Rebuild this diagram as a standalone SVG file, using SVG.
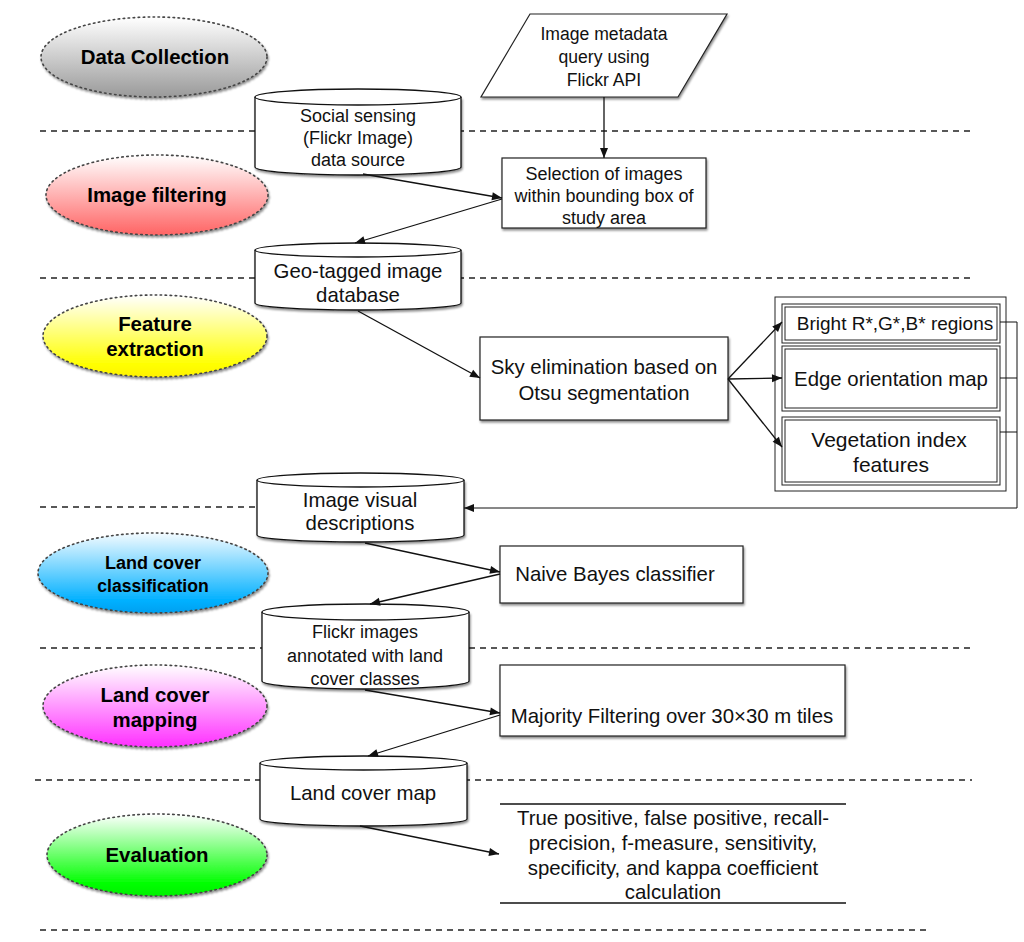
<svg xmlns="http://www.w3.org/2000/svg" width="1024" height="942" viewBox="0 0 1024 942">
<style>
.t{font-family:"Liberation Sans",Arial,sans-serif;font-size:20.4px;fill:#111;text-anchor:middle}
.s18{font-size:18px}
.s176{font-size:17.6px}
.s19{font-size:19px}
.s21{font-size:21px}
.lb{font-family:"Liberation Sans",Arial,sans-serif;font-size:20.4px;font-weight:bold;fill:#000;text-anchor:middle}
.ell{stroke:#444;stroke-width:1.6;stroke-dasharray:1.5 3.5;stroke-linecap:round}
.sep{stroke:#222;stroke-width:1.3;stroke-dasharray:6 5;fill:none}
.box{fill:#fff;stroke:#222;stroke-width:1.2}
.cyl{fill:#fff;stroke:#111;stroke-width:1.3}
.con{stroke:#111;stroke-width:1.3;fill:none}
.dbl{fill:#fff;stroke:#222;stroke-width:1}
</style>
<defs>
<linearGradient id="gGray" x1="0" y1="0" x2="0" y2="1"><stop offset="0" stop-color="#fff"/><stop offset="1" stop-color="#9a9a9a"/></linearGradient>
<linearGradient id="gRed" x1="0" y1="0" x2="0" y2="1"><stop offset="0" stop-color="#fff"/><stop offset="1" stop-color="#ff6464"/></linearGradient>
<linearGradient id="gYel" x1="0" y1="0" x2="0" y2="1"><stop offset="0" stop-color="#fff"/><stop offset="0.85" stop-color="#ffff00"/><stop offset="1" stop-color="#fff200"/></linearGradient>
<linearGradient id="gBlue" x1="0" y1="0" x2="0" y2="1"><stop offset="0" stop-color="#f4fbff"/><stop offset="0.85" stop-color="#00b0ff"/><stop offset="1" stop-color="#00a0f0"/></linearGradient>
<linearGradient id="gMag" x1="0" y1="0" x2="0" y2="1"><stop offset="0" stop-color="#fff"/><stop offset="1" stop-color="#ff30ff"/></linearGradient>
<linearGradient id="gGrn" x1="0" y1="0" x2="0" y2="1"><stop offset="0" stop-color="#fff"/><stop offset="0.85" stop-color="#00ff00"/><stop offset="1" stop-color="#00f000"/></linearGradient>
<filter id="sh" x="-5%" y="-5%" width="115%" height="125%"><feDropShadow dx="1" dy="2" stdDeviation="1.2" flood-color="#000" flood-opacity="0.45"/></filter>
<marker id="ar" viewBox="0 0 10 10" refX="10" refY="5" markerWidth="11" markerHeight="10" markerUnits="userSpaceOnUse" orient="auto"><path d="M0,1 L10,5 L0,9 Z" fill="#111"/></marker>
</defs>
<rect width="1024" height="942" fill="#fff"/>

<g id="separators">
<line class="sep" x1="40" y1="131" x2="975" y2="131"/>
<line class="sep" x1="40" y1="278" x2="975" y2="278"/>
<line class="sep" x1="40" y1="507" x2="258" y2="507"/>
<line class="sep" x1="40" y1="648" x2="975" y2="648"/>
<line class="sep" x1="35" y1="780" x2="972" y2="780"/>
<line class="sep" x1="40" y1="930" x2="930" y2="930"/>
</g>

<g id="stage-data-collection"><ellipse class="ell" cx="154" cy="57" rx="113" ry="40" fill="url(#gGray)" filter="url(#sh)"/><text class="lb" x="155" y="64">Data Collection</text></g>
<g id="stage-image-filtering"><ellipse class="ell" cx="157" cy="195" rx="111" ry="40" fill="url(#gRed)" filter="url(#sh)"/><text class="lb" x="157" y="202">Image filtering</text></g>
<g id="stage-feature-extraction"><ellipse class="ell" cx="155" cy="336" rx="112" ry="41" fill="url(#gYel)" filter="url(#sh)"/><text class="lb" x="155" y="331">Feature</text><text class="lb" x="155" y="356">extraction</text></g>
<g id="stage-land-cover-classification"><ellipse class="ell" cx="153" cy="573" rx="115" ry="40" fill="url(#gBlue)" filter="url(#sh)"/><text class="lb" x="153" y="569" style="font-size:18px">Land cover</text><text class="lb" x="153" y="592" style="font-size:17.6px">classification</text></g>
<g id="stage-land-cover-mapping"><ellipse class="ell" cx="155" cy="706" rx="112" ry="41" fill="url(#gMag)" filter="url(#sh)"/><text class="lb" x="155" y="702">Land cover</text><text class="lb" x="155" y="727">mapping</text></g>
<g id="stage-evaluation"><ellipse class="ell" cx="157" cy="855" rx="110" ry="41" fill="url(#gGrn)" filter="url(#sh)"/><text class="lb" x="157" y="862">Evaluation</text></g>

<g id="node-metadata-query">
<polygon class="box" points="530,14 727,14 678,97 481,97" filter="url(#sh)"/>
<text class="t s176" x="604" y="40">Image metadata</text>
<text class="t s176" x="604" y="63">query using</text>
<text class="t s176" x="604" y="86">Flickr API</text>
</g>

<g id="node-social-sensing">
<path class="cyl" d="M255,97 V167 A103,8 0 0 0 461,167 V97" filter="url(#sh)"/>
<ellipse class="cyl" cx="358" cy="97" rx="103" ry="8"/>
<text class="t s18" x="358" y="122">Social sensing</text>
<text class="t s18" x="358" y="144">(Flickr Image)</text>
<text class="t s18" x="358" y="166">data source</text>
</g>

<g id="node-selection">
<rect class="box" x="502" y="158" width="204" height="70" filter="url(#sh)"/>
<text class="t s18" x="604" y="180">Selection of images</text>
<text class="t s18" x="604" y="202">within bounding box of</text>
<text class="t s18" x="604" y="224">study area</text>
</g>

<g id="node-geotagged">
<path class="cyl" d="M255,250 V303 A103,7 0 0 0 461,303 V250" filter="url(#sh)"/>
<ellipse class="cyl" cx="358" cy="250" rx="103" ry="7"/>
<text class="t" x="358" y="278">Geo-tagged image</text>
<text class="t" x="358" y="302">database</text>
</g>

<g id="node-sky">
<rect class="box" x="480" y="337" width="248" height="83" filter="url(#sh)"/>
<text class="t" x="604" y="374">Sky elimination based on</text>
<text class="t" x="604" y="400">Otsu segmentation</text>
</g>

<g id="node-features">
<rect class="dbl" x="778" y="300" width="225" height="188"/>
<rect class="dbl" x="775" y="297" width="231" height="194" fill="none"/>
</g>
<g id="node-bright">
<rect class="dbl" x="782" y="304" width="218" height="39"/>
<rect class="dbl" x="785" y="307" width="212" height="33" fill="none"/>
<text class="t s19" x="895" y="330">Bright R*,G*,B* regions</text>
</g>
<g id="node-edge">
<rect class="dbl" x="782" y="346" width="218" height="65"/>
<rect class="dbl" x="785" y="349" width="212" height="59" fill="none"/>
<text class="t" x="891" y="386">Edge orientation map</text>
</g>
<g id="node-vegetation">
<rect class="dbl" x="782" y="417" width="218" height="68"/>
<rect class="dbl" x="785" y="420" width="212" height="62" fill="none"/>
<text class="t s21" x="889" y="447">Vegetation index</text>
<text class="t s21" x="891" y="472">features</text>
</g>

<g id="node-visual-descriptions">
<path class="cyl" d="M257,480 V535 A103.5,7 0 0 0 464,535 V480" filter="url(#sh)"/>
<ellipse class="cyl" cx="360.5" cy="480" rx="103.5" ry="7"/>
<text class="t" x="360" y="507">Image visual</text>
<text class="t" x="360" y="530">descriptions</text>
</g>

<g id="node-naive-bayes">
<rect class="box" x="500" y="546" width="243" height="57" filter="url(#sh)"/>
<text class="t" x="615" y="581">Naive Bayes classifier</text>
</g>

<g id="node-annotated">
<path class="cyl" d="M262,612 V681 A103.5,8 0 0 0 469,681 V612" filter="url(#sh)"/>
<ellipse class="cyl" cx="365.5" cy="612" rx="103.5" ry="8"/>
<text class="t s18" x="365" y="638">Flickr images</text>
<text class="t s18" x="365" y="662">annotated with land</text>
<text class="t s18" x="365" y="685">cover classes</text>
</g>

<g id="node-majority">
<rect class="box" x="500" y="665" width="345" height="71" filter="url(#sh)"/>
<text class="t" x="672" y="723">Majority Filtering over 30×30 m tiles</text>
</g>

<g id="node-land-cover-map">
<path class="cyl" d="M260,763 V819 A103.5,7 0 0 0 467,819 V763" filter="url(#sh)"/>
<ellipse class="cyl" cx="363.5" cy="763" rx="103.5" ry="7"/>
<text class="t" x="363" y="800">Land cover map</text>
</g>

<g id="node-evaluation-metrics">
<line class="con" x1="500" y1="804" x2="846" y2="804"/>
<line class="con" x1="500" y1="903" x2="846" y2="903"/>
<text class="t" x="673" y="825">True positive, false positive, recall-</text>
<text class="t" x="673" y="850">precision, f-measure, sensitivity,</text>
<text class="t" x="673" y="875">specificity, and kappa coefficient</text>
<text class="t" x="673" y="899">calculation</text>
</g>

<g id="connectors">
<line class="con" x1="604" y1="97" x2="604" y2="158" marker-end="url(#ar)"/>
<line class="con" x1="363" y1="174" x2="502" y2="198" marker-end="url(#ar)"/>
<line class="con" x1="502" y1="199" x2="355" y2="243" marker-end="url(#ar)"/>
<line class="con" x1="358" y1="311" x2="480" y2="378" marker-end="url(#ar)"/>
<line class="con" x1="728" y1="379" x2="782" y2="322" marker-end="url(#ar)"/>
<line class="con" x1="728" y1="379" x2="782" y2="378" marker-end="url(#ar)"/>
<line class="con" x1="728" y1="379" x2="782" y2="447" marker-end="url(#ar)"/>
<polyline class="con" points="1000,322 1017,322 1017,508" style="stroke-width:1"/>
<line class="con" x1="1000" y1="378" x2="1017" y2="378" style="stroke-width:1"/>
<line class="con" x1="1000" y1="432" x2="1017" y2="432" style="stroke-width:1"/>
<line class="con" x1="1017" y1="508" x2="464" y2="508" marker-end="url(#ar)" style="stroke-width:1"/>
<line class="con" x1="365" y1="543" x2="500" y2="572" marker-end="url(#ar)"/>
<line class="con" x1="500" y1="574" x2="370" y2="604" marker-end="url(#ar)"/>
<line class="con" x1="365" y1="690" x2="500" y2="713" marker-end="url(#ar)"/>
<line class="con" x1="500" y1="715" x2="368" y2="756" marker-end="url(#ar)"/>
<line class="con" x1="360" y1="826" x2="499" y2="854" marker-end="url(#ar)"/>
</g>
</svg>
